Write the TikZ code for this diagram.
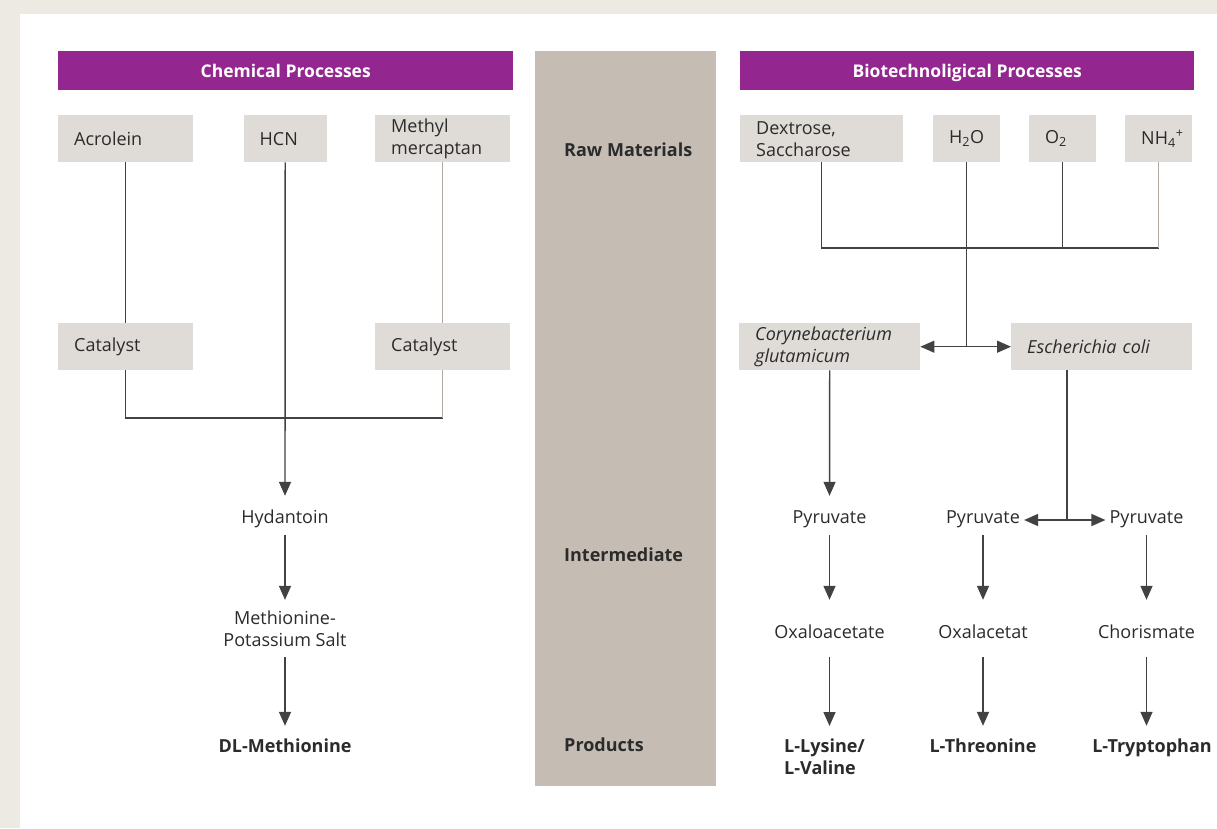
\documentclass[tikz,border=0pt]{standalone}
\usepackage{fontspec}
\setmainfont{Open Sans}
\usetikzlibrary{arrows.meta}
\definecolor{pagebg}{HTML}{EDEAE4}
\definecolor{hdrpurple}{HTML}{93278F}
\definecolor{boxgray}{HTML}{DFDBD7}
\definecolor{colgray}{HTML}{C5BDB4}
\definecolor{inkdark}{HTML}{2B2B2B}
\definecolor{linedark}{HTML}{424242}
\definecolor{linelight}{HTML}{B0A8A1}

\begin{document}
\begin{tikzpicture}[x=1pt,y=-1pt,
  every node/.style={font=\fontsize{18}{22}\selectfont, text=inkdark},
  hdr/.style={fill=hdrpurple, text=white, font=\fontsize{17.5}{20}\selectfont\bfseries,
    minimum width=455pt, minimum height=39pt, anchor=north west, inner sep=0pt,
    text height=14pt, text depth=1pt},
  rawbox/.style={fill=boxgray, anchor=north west, align=left, inner xsep=16pt,
    inner ysep=0pt, minimum height=47pt},
  lbl/.style={inner xsep=4pt, inner ysep=0pt, text height=13pt, text depth=4pt, anchor=base},
  multi/.style={inner sep=0pt, align=center},
  prod/.style={lbl, font=\fontsize{18}{22}\selectfont\bfseries},
  stage/.style={font=\fontsize{18}{22}\selectfont\bfseries, anchor=base west, inner sep=0pt},
  wire/.style={draw=linedark, line width=1.4pt},
  wirelight/.style={draw=linelight, line width=1.4pt},
  arr/.style={wire, -{Triangle[width=12pt,length=14pt]}},
]
% page and panel
\useasboundingbox (0,0) rectangle (1217,828);
\fill[pagebg] (0,0) rectangle (1217,828);
\fill[white] (20,14) rectangle (1217,828);
% central stage column
\fill[colgray] (535,51) rectangle (716,786);
\node[stage] (sraw) at (564,156) {Raw Materials};
\node[stage] (sint) at (564,561) {Intermediate};
\node[stage] (sprod) at (564,751) {Products};

% headers
\node[hdr] (hchem) at (58,51) {Chemical Processes};
\node[hdr, minimum width=454pt] (hbio) at (740,51) {Biotechnoligical Processes};

% ---------- chemical route ----------
\node[rawbox, text width=103pt] (acro) at (58,115) {Acrolein};
\node[rawbox, text width=51pt] (hcn) at (243.5,115) {HCN};
\node[rawbox, text width=103pt] (methyl) at (375,115) {Methyl\\mercaptan};
\node[rawbox, text width=103pt] (cat1) at (58,323) {Catalyst};
\node[rawbox, text width=103pt] (cat2) at (375,323) {Catalyst};

\node[lbl] (hyd) at (285,523) {Hydantoin};
\node[multi] (meth) at (285,629) {Methionine-\\Potassium Salt};
\node[prod] (dlm) at (285,752) {DL-Methionine};

\coordinate (cj) at (285,418);
\draw[wire] (acro.south) -- (cat1.north);
\draw[wirelight] (methyl.south) -- (cat2.north);
\draw[wire] (cat1.south) |- (cj) -- (cj -| cat2.south);
\draw[wirelight] (cat2.south) -- (cat2.south |- cj);
\draw[arr, shorten >=14pt] (hcn.south) -- (hyd.north);
\draw[arr, shorten <=8pt, shorten >=11pt] (hyd.south) -- (meth.north);
\draw[arr, shorten <=10pt, shorten >=13pt] (meth.south) -- (dlm.north);

% ---------- biotechnological route ----------
\node[rawbox, text width=131pt] (dex) at (740,115) {Dextrose,\\Saccharose};
\node[rawbox, text width=35pt] (h2o) at (933,115) {H\textsubscript{2}O};
\node[rawbox, text width=35pt] (o2) at (1029,115) {O\textsubscript{2}};
\node[rawbox, text width=35pt] (nh4) at (1125,115) {NH\textsubscript{4}\textsuperscript{+}};
\node[rawbox, text width=149pt, font=\fontsize{18}{22}\selectfont\itshape] (cory) at (739,323) {Corynebacterium\\glutamicum};
\node[rawbox, text width=149pt, font=\fontsize{18}{22}\selectfont\itshape] (esch) at (1011,323) {Escherichia coli};

\coordinate (rawlevel) at (0,248);
\coordinate (bj) at (h2o.south |- cory.east);
\coordinate (ej) at (1067,520);
\draw[wire] (dex.south) |- (nh4.south |- rawlevel);
\draw[wire] (o2.south) -- (o2.south |- rawlevel);
\draw[wirelight] (nh4.south) -- (nh4.south |- rawlevel);
\draw[wire] (h2o.south) -- (bj);
\draw[arr] (bj) -- (cory.east);
\draw[arr] (bj) -- (esch.west);

\node[lbl] (pyr1) at (829.5,523) {Pyruvate};
\node[lbl] (pyr2) at (983,523) {Pyruvate};
\node[lbl] (pyr3) at (1146.5,523) {Pyruvate};
\node[lbl] (oxa) at (829.5,638) {Oxaloacetate};
\node[lbl] (oxal) at (983,638) {Oxalacetat};
\node[lbl] (chor) at (1146.5,638) {Chorismate};
\node[inner sep=0pt, anchor=north west, align=left, font=\fontsize{18}{22}\selectfont\bfseries] (lys) at (784,739) {L-Lysine/\\L-Valine};
\node[prod] (thr) at (983,752) {L-Threonine};
\node[prod] (tryp) at (1152,752) {L-Tryptophan};

\draw[wire] (esch.south -| ej) -- (ej);
\draw[arr] (ej) -- (pyr2.east |- ej);
\draw[arr] (ej) -- (pyr3.west |- ej);
\draw[arr, shorten >=14pt] (cory.south) -- (pyr1.north);
\draw[arr, shorten <=8pt, shorten >=25pt] (pyr1.south) -- (oxa.north);
\draw[arr, shorten <=8pt, shorten >=25pt] (pyr2.south) -- (oxal.north);
\draw[arr, shorten <=8pt, shorten >=25pt] (pyr3.south) -- (chor.north);
\draw[arr, shorten <=15pt, shorten >=13pt] (oxa.south) -- (lys.north -| oxa.south);
\draw[arr, shorten <=15pt, shorten >=13pt] (oxal.south) -- (thr.north);
\draw[arr, shorten <=15pt, shorten >=13pt] (chor.south) -- (tryp.north -| chor.south);
\end{tikzpicture}
\end{document}
